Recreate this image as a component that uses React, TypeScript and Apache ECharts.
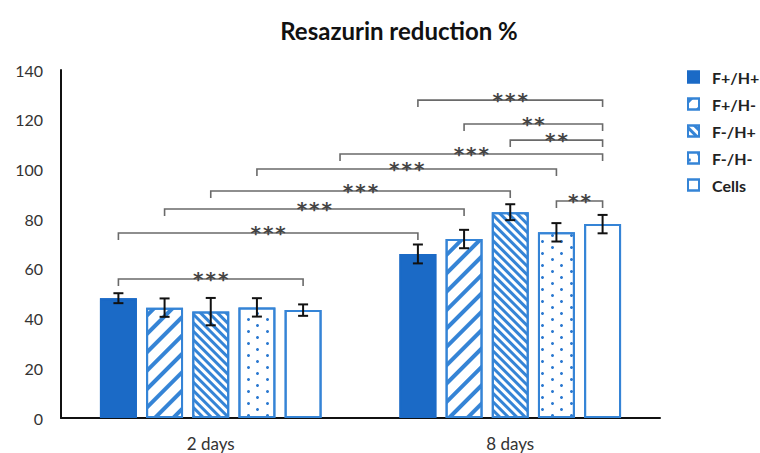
import React, { useEffect, useRef } from "react";
import * as echarts from "echarts";

const categories = ["2 days", "8 days"];
const seriesNames = ["F+/H+", "F+/H-", "F-/H+", "F-/H-", "Cells"];
// mean values per series: [2 days, 8 days]
const valuesFpHp = [48.2, 66.0];
const valuesFpHm = [44.4, 72.0];
const valuesFmHp = [42.8, 82.8];
const valuesFmHm = [44.5, 74.7];
const valuesCells = [43.4, 78.0];
// error (± SD) per series
const errFpHp = [2.0, 3.8];
const errFpHm = [3.7, 3.7];
const errFmHp = [5.5, 3.2];
const errFmHm = [3.7, 3.7];
const errCells = [2.3, 3.7];
const yMin = 0;
const yMax = 140;
const yInterval = 20;
// significance brackets: [fromCategory, fromBar, toCategory, toBar, yValue]
const brackets = [
  [1, 0, 1, 4, 127.9],
  [1, 1, 1, 4, 118.3],
  [1, 2, 1, 4, 111.8],
  [0, 4.8, 1, 4, 106.2],
  [0, 3, 1, 3, 100.2],
  [0, 2, 1, 2, 91.3],
  [0, 1, 1, 1, 84.1],
  [0, 0, 1, 0, 74.4],
  [1, 3, 1, 4, 87.3],
  [0, 0, 0, 4, 55.9],
];
const bracketLabels = ["***", "**", "**", "***", "***", "***", "***", "***", "**", "***"];

const allValues = [valuesFpHp, valuesFpHm, valuesFmHp, valuesFmHm, valuesCells];
const allErrors = [errFpHp, errFpHm, errFmHp, errFmHm, errCells];

const BLUE = "#1b6ac6";
const LBLUE = "#3584d6";
const CAT_GAP = 0.26;
const BAR_GAP = 0.25;
const FONT = "Lato";

function barOffset(api: any, bar: number) {
  const band = api.size([1, 0])[0];
  const bw = (band * (1 - CAT_GAP)) / (5 + 4 * BAR_GAP);
  return (bar - 2) * bw * (1 + BAR_GAP);
}

export default function App() {
  const ref = useRef<HTMLDivElement>(null);
  useEffect(() => {
    document.body.style.margin = "0";
    const chart = echarts.init(ref.current!, null, { renderer: "svg" });
    const decals: any[] = [
      { symbol: "none" },
      {
        symbol: "rect",
        symbolSize: 1,
        dashArrayX: [1, 0],
        dashArrayY: [4, 9],
        rotation: -Math.PI / 4,
        color: LBLUE,
      },
      {
        symbol: "rect",
        symbolSize: 1,
        dashArrayX: [1, 0],
        dashArrayY: [3, 3],
        rotation: Math.PI / 4,
        color: LBLUE,
      },
      {
        symbol: "circle",
        symbolSize: 1,
        dashArrayX: [
          [2.4, 15.6],
          [0, 9, 2.4, 6.6],
        ],
        dashArrayY: [2.4, 2.1],
        color: "#2a78d0",
      },
      { symbol: "none" },
    ];
    const barSeries = seriesNames.map((name, i) => ({
      name,
      type: "bar",
      data: allValues[i],
      barCategoryGap: CAT_GAP * 100 + "%",
      barGap: BAR_GAP * 100 + "%",
      itemStyle: {
        color: i === 0 ? BLUE : "#ffffff",
        borderColor: i === 0 ? BLUE : LBLUE,
        borderWidth: 2,
        decal: decals[i],
      },
      z: 2,
    }));
    const errData: number[][] = [];
    for (let s = 0; s < 5; s++) {
      for (let c = 0; c < categories.length; c++) {
        errData.push([c, s, allValues[s][c], allErrors[s][c]]);
      }
    }
    chart.setOption({
      animation: false,
      textStyle: { fontFamily: FONT },
      title: {
        text: "Resazurin reduction %",
        left: 394,
        top: 13,
        textAlign: "center",
        textStyle: { fontFamily: FONT, fontWeight: "bold", fontSize: 24, color: "#111" },
      },
      legend: {
        data: seriesNames,
        orient: "vertical",
        left: 687,
        top: 69,
        padding: 0,
        itemWidth: 11,
        itemHeight: 11,
        itemGap: 11,
        icon: "rect",
        textStyle: {
          fontFamily: FONT,
          fontWeight: "bold",
          fontSize: 16,
          lineHeight: 16,
          color: "#222",
          padding: [0, 0, 0, 8],
        },
      },
      grid: { left: 61, right: 100, top: 70, bottom: 35 },
      xAxis: {
        type: "category",
        data: categories,
        axisLine: { lineStyle: { color: "#111", width: 2 } },
        axisTick: { show: false },
        axisLabel: { fontFamily: FONT, fontSize: 17, color: "#333", margin: 17 },
      },
      yAxis: {
        type: "value",
        min: yMin,
        max: yMax,
        interval: yInterval,
        axisLine: { show: true, lineStyle: { color: "#111", width: 2 } },
        axisTick: { show: false },
        splitLine: { show: false },
        axisLabel: { fontFamily: FONT, fontSize: 16, color: "#333", margin: 18 },
      },
      series: [
        ...barSeries,
        {
          type: "custom",
          name: "err",
          data: errData,
          encode: { x: 0, y: 2 },
          z: 5,
          clip: false,
          renderItem: (params: any, api: any) => {
            const c = api.value(0);
            const b = api.value(1);
            const v = api.value(2);
            const e = api.value(3);
            const dx = barOffset(api, b);
            const top = api.coord([c, v + e]);
            const bot = api.coord([c, v - e]);
            const x = top[0] + dx;
            const st = { stroke: "#111", lineWidth: 2 };
            return {
              type: "group",
              children: [
                { type: "line", shape: { x1: x, y1: top[1], x2: x, y2: bot[1] }, style: st },
                { type: "line", shape: { x1: x - 5, y1: top[1], x2: x + 5, y2: top[1] }, style: st },
                { type: "line", shape: { x1: x - 5, y1: bot[1], x2: x + 5, y2: bot[1] }, style: st },
              ],
            };
          },
        },
        {
          type: "custom",
          name: "brackets",
          data: brackets,
          encode: { x: 0, y: 4 },
          z: 6,
          clip: false,
          renderItem: (params: any, api: any) => {
            const fc = api.value(0);
            const fb = api.value(1);
            const tc = api.value(2);
            const tb = api.value(3);
            const y = api.value(4);
            const p1 = api.coord([fc, y]);
            const p2 = api.coord([tc, y]);
            const x1 = p1[0] + barOffset(api, fb);
            const x2 = p2[0] + barOffset(api, tb);
            const py = p1[1];
            return {
              type: "group",
              children: [
                {
                  type: "polyline",
                  shape: { points: [[x1, py + 7], [x1, py], [x2, py], [x2, py + 7]] },
                  style: { stroke: "#6a6a6a", lineWidth: 1.6, fill: "none" },
                },
                {
                  type: "text",
                  x: (x1 + x2) / 2,
                  y: py,
                  style: {
                    text: bracketLabels[params.dataIndex].split("").join("\u200A"),
                    fontFamily: "DejaVu Sans",
                    fontWeight: "bold",
                    fontSize: 20,
                    fill: "#444",
                    align: "center",
                    verticalAlign: "middle",
                  },
                },
              ],
            };
          },
        },
      ],
    });
    return () => chart.dispose();
  }, []);
  return <div ref={ref} style={{ width: 760, height: 453 }} />;
}
